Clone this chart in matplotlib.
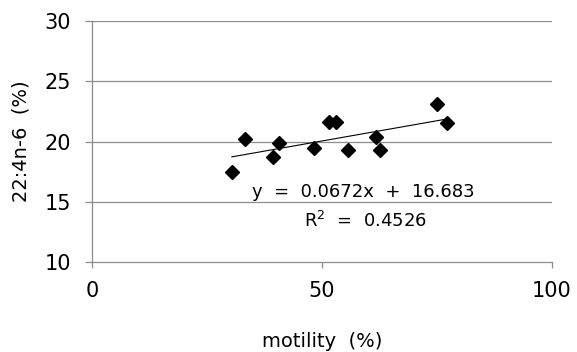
import numpy as np
import matplotlib.pyplot as plt

# motility (%) vs 22:4n-6 (%) for each sample
motility = [30.4, 33.3, 39.4, 40.7, 48.3, 51.5, 53.0, 55.7, 61.7, 62.7, 74.9, 77.1]
fa_224n6 = [17.5, 20.2, 18.7, 19.9, 19.5, 21.6, 21.6, 19.3, 20.4, 19.3, 23.1, 21.5]

slope = 0.0672
intercept = 16.683
r2 = 0.4526

xTicks = [0, 50, 100]
yTicks = [10, 15, 20, 25, 30]

plt.rcParams['font.family'] = 'DejaVu Sans'

fig = plt.figure(figsize=(5.77, 3.52), dpi=100)
ax = fig.add_axes([92 / 577, 1 - 262 / 352, 460 / 577, 241 / 352])

ax.set_xlim(0, 100)
ax.set_ylim(10, 30)

for yv in yTicks[1:]:
    ax.axhline(yv, color='#8c8c8c', lw=0.9, zorder=0)

ax.plot(motility, fa_224n6, 'D', color='black', ms=7.5, zorder=3)

xs = np.array([min(motility), max(motility)])
ax.plot(xs, slope * xs + intercept, color='black', lw=0.8, zorder=2)

ax.text(0.59, 0.29, "y  =  %.4fx  +  %.3f" % (slope, intercept),
        transform=ax.transAxes, ha='center', va='center', fontsize=13)
ax.text(0.595, 0.172, "R$^2$  =  %.4f" % r2,
        transform=ax.transAxes, ha='center', va='center', fontsize=13)

ax.set_xticks(xTicks)
ax.set_yticks(yTicks)
ax.tick_params(axis='both', labelsize=15, color='#8c8c8c', width=0.9)
ax.tick_params(axis='y', length=5, pad=10)
ax.tick_params(axis='x', length=4, pad=10)

for side in ['top', 'right']:
    ax.spines[side].set_visible(False)
for side in ['left', 'bottom']:
    ax.spines[side].set_color('#8c8c8c')
    ax.spines[side].set_linewidth(0.9)

ax.set_xlabel("motility  (%)", fontsize=14, labelpad=22)
ax.set_ylabel("22:4n-6  (%)", fontsize=14, labelpad=10)

fig.savefig("out.png", dpi=100)
